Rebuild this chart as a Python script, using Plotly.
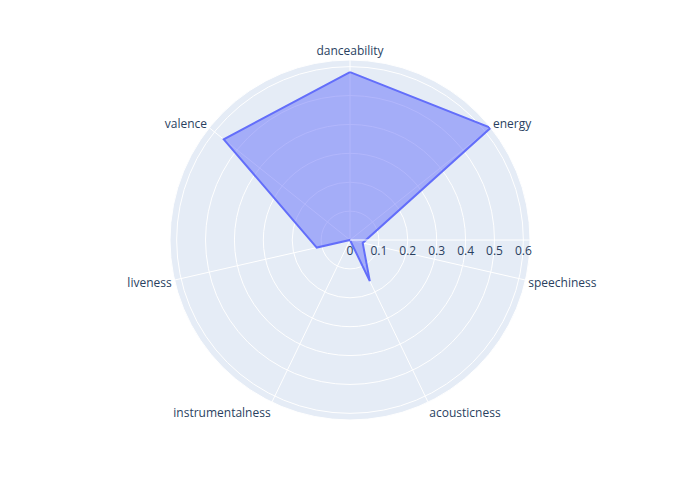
import pandas as pd
import plotly.express as px

features = ["danceability", "energy", "speechiness", "acousticness",
            "instrumentalness", "liveness", "valence"]
values = [0.581, 0.623, 0.045, 0.158, 0.0, 0.118, 0.559]

df = pd.DataFrame({"r": values, "theta": features})
fig = px.line_polar(df, r="r", theta="theta", line_close=True)
fig.update_traces(fill="toself")
fig.update_layout(width=700, height=500)
fig.write_html("out.html", config={"displayModeBar": False},
               post_script="document.body.style.margin='0';")
